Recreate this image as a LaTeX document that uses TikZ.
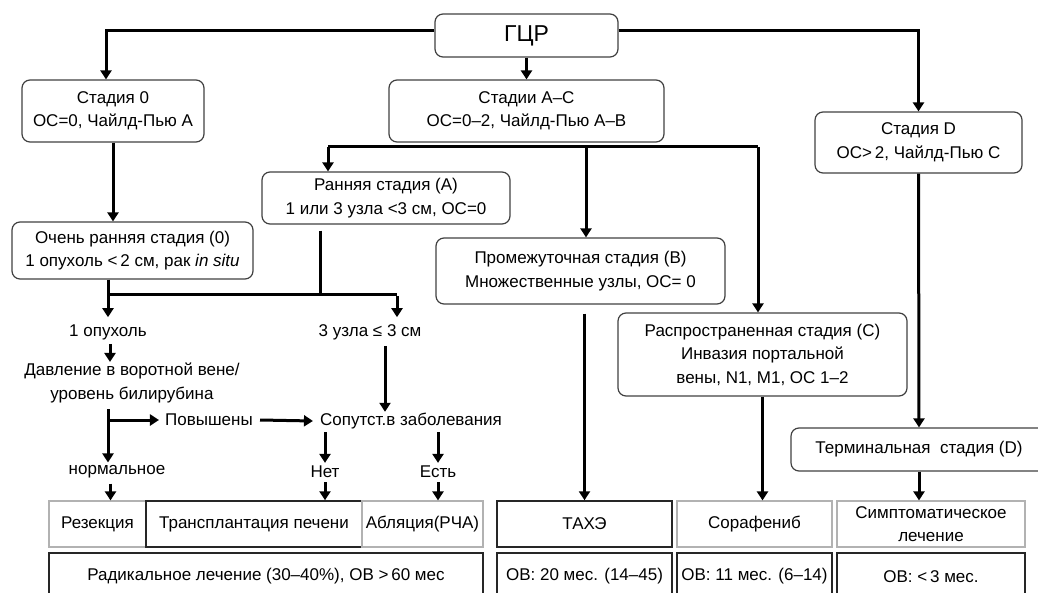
\documentclass[tikz,border=0pt]{standalone}
\usepackage{fontspec}
\setmainfont{Liberation Sans}
\usetikzlibrary{arrows.meta}

\begin{document}
\begin{tikzpicture}[x=1pt,y=-1pt,
    >={Triangle[length=9pt,width=11pt]},
    every node/.style={font=\fontsize{17}{23.5}\selectfont},
    stage/.style={draw=black!75,line width=1.2pt,rounded corners=8pt,align=center,inner sep=0pt},
    cell/.style={draw=black!30,line width=1.2pt,align=center,inner sep=0pt},
    dcell/.style={draw=black!85,line width=1.5pt,align=center,inner sep=0pt},
    label/.style={align=center,inner sep=1pt},
    link/.style={line width=3pt},
    arr/.style={line width=3pt,->}]
    \useasboundingbox (0,0) rectangle (1038,593);

    % stages
    \node[stage,minimum width=183,minimum height=43,font=\fontsize{23}{26}\selectfont] (gcr) at (526.5,35.5) {ГЦР};
    \node[stage,minimum width=182,minimum height=62] (st0) at (113,111) {Стадия 0\\ОС=0, Чайлд-Пью А};
    \node[stage,minimum width=275,minimum height=62] (stAC) at (526.5,111) {Стадии А–С\\ОС=0–2, Чайлд-Пью А–В};
    \node[stage,minimum width=207,minimum height=61] (stD) at (918.5,142.5) {Стадия D\\ОС>\,2, Чайлд-Пью С};
    \node[stage,minimum width=241,minimum height=57] (vearly) at (132.5,250.5) {Очень ранняя стадия (0)\\1 опухоль <\,2 см, рак \textit{in situ}};
    \node[stage,minimum width=248,minimum height=52] (early) at (386,198) {Ранняя стадия (А)\\1 или 3 узла <3 см, ОС=0};
    \node[stage,minimum width=289,minimum height=66] (interm) at (580.5,271) {Промежуточная стадия (В)\\Множественные узлы, ОС= 0};
    \node[stage,minimum width=289,minimum height=83] (adv) at (762.5,354.5) {Распространенная стадия (С)\\Инвазия портальной\\вены, N1, M1, ОС 1–2};
    \node[stage,minimum width=256,minimum height=43] (term) at (919,449.5) {Терминальная\ \ стадия (D)};

    % decisions
    \node[label] (t1op) at (108,332) {1 опухоль};
    \node[label] (t3uz) at (370,332) {3 узла ≤ 3 см};
    \node[label] (dav) at (132,383) {Давление в воротной вене/\\уровень билирубина};
    \node[label] (pov) at (209,420) {Повышены};
    \node[label] (sop) at (411,421) {Сопутст.в заболевания};
    \node[label] (norm) at (117,472) {нормальное};
    \node[label] (net) at (325,472) {Нет};
    \node[label] (est) at (438,472) {Есть};

    % treatment
    \node[cell,minimum width=434,minimum height=46] (radgrp) at (266,524) {};
    \node[cell,minimum width=97,minimum height=46] (rez) at (97.5,524) {Резекция};
    \node[dcell,minimum width=216,minimum height=46] (transp) at (254,524) {Трансплантация печени};
    \node[cell,minimum width=121,minimum height=46] (abl) at (422.5,524) {Абляция(РЧА)};
    \node[dcell,minimum width=175,minimum height=46] (tace) at (584.5,524) {ТАХЭ};
    \node[cell,minimum width=155,minimum height=46] (soraf) at (754.5,524) {Сорафениб};
    \node[cell,minimum width=188,minimum height=46] (sympt) at (931,524) {Симптоматическое\\лечение};

    % outcome
    \node[dcell,minimum width=434,minimum height=47] (rad) at (266,576.5) {Радикальное лечение (30–40\%), ОВ >\,60 мес};
    \node[dcell,minimum width=175,minimum height=47] (os1) at (584.5,576.5) {ОВ: 20 мес. (14–45)};
    \node[dcell,minimum width=155,minimum height=47] (os2) at (754.5,576.5) {ОВ: 11 мес. (6–14)};
    \node[dcell,minimum width=188,minimum height=47] (os3) at (931,576.5) {ОВ: <\,3 мес.};

    % top level
    \draw[arr] (gcr.west |- 0,31) -| ([xshift=-7pt]st0.north);
    \draw[arr] (gcr.south) -- (stAC.north);
    \draw[arr] (gcr.east |- 0,31) -| (stD.north);
    \draw[arr] (st0.south) -- (st0.south |- vearly.north);
    \draw[arr] (stD.south) -- (term.north);
    \draw[arr] (term.south) -- (term.south |- sympt.north);

    % stages A-C
    \coordinate (acL) at (328,147);
    \coordinate (acM) at (586,147);
    \coordinate (acR) at (758,147);
    \draw[link] (acL) -- (acR);
    \draw[arr] (acL) -- (acL |- early.north);
    \draw[arr] (acM) -- (acM |- interm.north);
    \draw[arr] (acR) -- (acR |- adv.north);
    \draw[arr,shorten <=9pt] (interm.south -| tace.north) -- (tace.north);
    \draw[arr] (adv.south) -- (adv.south |- soraf.north);

    % very early / early
    \coordinate (jL) at (108,295);
    \coordinate (jM) at (320,295);
    \coordinate (jR) at (397,295);
    \draw[link] (vearly.south -| jL) -- (jL) -- (jR);
    \draw[link,shorten <=6pt] (early.south -| jM) -- (jM);
    \draw[arr] ([yshift=-1.5pt]jL) -- ([yshift=6pt]t1op.north -| jL);
    \draw[arr] ([yshift=-1.5pt]jR) -- ([yshift=6pt]t1op.north -| jR);

    % one tumour
    \draw[arr] ([shift={(2pt,-3pt)}]t1op.south) -- ([xshift=2pt]t1op.south |- dav.north);
    \draw[arr] ([yshift=-5pt]dav.south -| jL) -- ([yshift=2pt]norm.north -| jL);
    \draw[arr] (pov.west -| jL) -- ([xshift=-5pt]pov.west);
    \draw[arr] ([xshift=6pt]pov.east) -- ([xshift=-6pt]sop.west);
    \draw[arr] (norm.south -| rez.north) ++(13pt,-4pt) -- ([xshift=13pt]rez.north);

    % three nodes
    \draw[arr] ([shift={(15pt,-5pt)}]t3uz.south) -- ([xshift=15pt]t3uz.south |- sop.north);
    \draw[arr] ([yshift=-2pt]sop.south -| net) -- ([yshift=2pt]net.north);
    \draw[arr] ([yshift=-2pt]sop.south -| est) -- ([yshift=2pt]est.north);
    \draw[arr] ([yshift=-3pt]net.south) -- (net.south |- transp.north);
    \draw[arr] ([yshift=-3pt]est.south) -- (est.south |- abl.north);
\end{tikzpicture}
\end{document}
